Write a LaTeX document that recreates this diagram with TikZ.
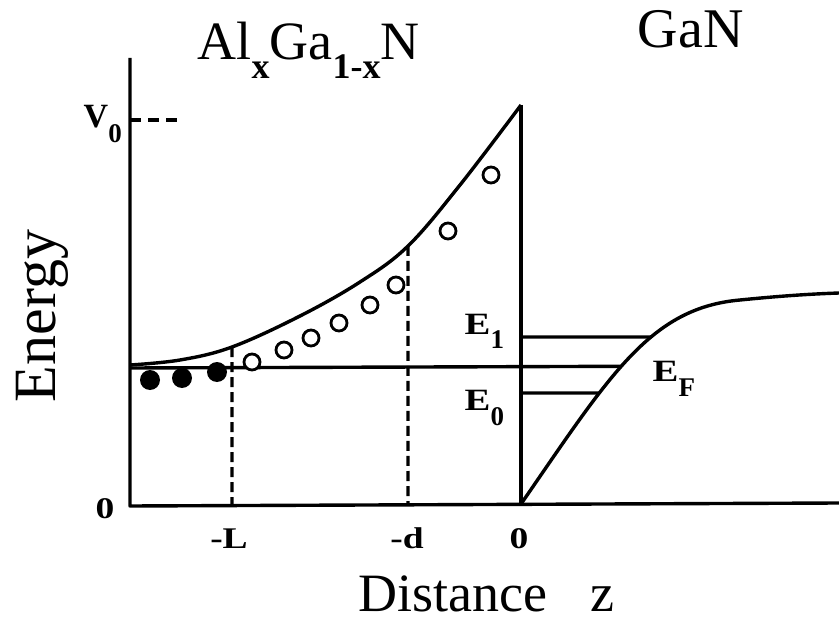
\documentclass[tikz,border=0pt]{standalone}
\usepackage{fontspec}
\setmainfont{Liberation Serif}
\usetikzlibrary{intersections}
\newcommand{\subx}[1]{\raisebox{-19pt}{\fontsize{36}{36}\selectfont\bfseries #1}}
\newcommand{\subs}[1]{\raisebox{-15pt}{\fontsize{27}{27}\selectfont #1}}
\newcommand{\wide}[1]{\scalebox{1.25}[1]{#1}}
\begin{document}
\begin{tikzpicture}[x=1pt,y=-1pt, line width=3.4pt, line join=round,
  lbl/.style={inner sep=0pt, anchor=base west, font=\fontsize{31}{31}\selectfont\bfseries},
  tick/.style={inner sep=0pt, anchor=base, font=\fontsize{30}{30}\selectfont\bfseries},
  big/.style={inner sep=0pt, font=\fontsize{54}{54}\selectfont},
  dsh/.style={dash pattern=on 10pt off 5pt},
  filled/.style={fill=black, draw=none},
  hollow/.style={draw=black, line width=2.8pt, fill=white}]
\useasboundingbox (0,0) rectangle (839,623);

% axes
\coordinate (ytop) at (130,58);
\coordinate (origin) at (130,506);
\coordinate (xend) at (839,503);
\coordinate (itop) at (521,105);
\coordinate (ibot) at (521,504);
\draw (ytop) -- (origin) -- (xend);
\draw (itop) -- (ibot);

% V0 dash
\coordinate (v0a) at (130,120);
\coordinate (v0b) at (178,120);
\draw[dash pattern=on 11pt off 7pt] (v0a) -- (v0b);

% barrier
\draw[name path=barrier] plot[smooth, tension=0.6] coordinates {(130,365) (180,360) (232,347) (300,316) (360,282) (408,246) (460,185) (521,105)};

% GaN band
\draw[name path=gan] (ibot) .. controls (610,375) and (650,308) .. (740,300)
   .. controls (780,296) and (810,294) .. (839,293);

% Fermi level and subbands (ending on the GaN band)
\path[name path=fl] (130,367) -- (839,366);
\path[name path=l1] (521,337) -- (839,337);
\path[name path=l0] (521,393) -- (839,393);
\path[name intersections={of=fl and gan, by=fb}];
\path[name intersections={of=l1 and gan, by=e1b}];
\path[name intersections={of=l0 and gan, by=e0b}];
\coordinate (fa) at (130,368);
\coordinate (e1a) at (521,337);
\coordinate (e0a) at (521,393);
\draw (fa) -- (fb);
\draw (e1a) -- (e1b);
\draw (e0a) -- (e0b);

% dashed verticals
\path[name path=vl] (232,200) -- (232,505);
\path[name path=vd] (408,100) -- (408,505);
\path[name intersections={of=vl and barrier, by=la}];
\path[name intersections={of=vd and barrier, by=da}];
\coordinate (lb) at (232,505);
\coordinate (db) at (408,505);
\draw[dsh] (la) -- (lb);
\draw[dsh] (da) -- (db);

% electrons
\fill[filled] (150,380) circle (10);
\fill[filled] (182,378) circle (10);
\fill[filled] (217,372) circle (10);
\foreach \p in {(252,362),(284,350),(311,338),(339,323),(370,305),(396,285),(448,231),(491,175)}
  \draw[hollow] \p circle (8);

% labels
\node[big, anchor=base west] (alloy) at (196,60) {Al\subx{x}Ga\subx{1-x}N};
\node[big, anchor=base west, font=\fontsize{56}{56}\selectfont] (gan) at (636,48) {GaN};
\node[big, rotate=90, anchor=base, font=\fontsize{60}{60}\selectfont] (energy) at (56,316) {Energy};
\node[big, anchor=base west] (dist) at (357,611) {Distance\hspace{0.8em}z};
\node[lbl, font=\fontsize{34}{34}\selectfont\bfseries] (v0) at (82,128) {V\subs{0}};
\node[tick] (zero) at (105,518) {\wide{0}};
\node[tick] (mL) at (229,548) {\wide{-L}};
\node[tick] (md) at (407,548) {\wide{-d}};
\node[tick] (z0) at (519,548) {\wide{0}};
\node[lbl] (E1) at (463,334) {\wide{E}\subs{1}};
\node[lbl] (E0) at (463,410) {\wide{E}\subs{0}};
\node[lbl] (EF) at (651,381) {\wide{E}\subs{F}};
\end{tikzpicture}
\end{document}
